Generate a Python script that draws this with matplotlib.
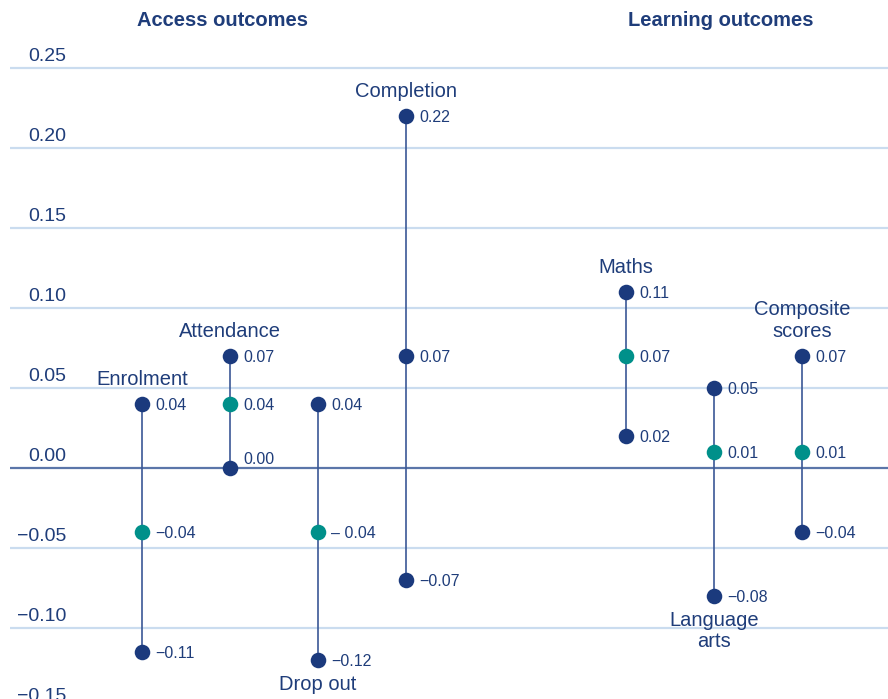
import matplotlib
matplotlib.use("Agg")
import matplotlib.pyplot as plt
from matplotlib.transforms import offset_copy, blended_transform_factory

plt.rcParams['font.family'] = ['Liberation Sans', 'DejaVu Sans']

# ---- data ----
categories = ["Enrolment", "Attendance", "Drop out", "Completion",
              "Maths", "Language\narts", "Composite\nscores"]
groups = ["Access", "Access", "Access", "Access", "Learning", "Learning", "Learning"]
high = [0.04, 0.07, 0.04, 0.22, 0.11, 0.05, 0.07]
mid = [-0.04, 0.04, -0.04, 0.07, 0.07, 0.01, 0.01]
low = [-0.115, 0.00, -0.12, -0.07, 0.02, -0.08, -0.04]
high_lbl = ["0.04", "0.07", "0.04", "0.22", "0.11", "0.05", "0.07"]
mid_lbl = ["\u22120.04", "0.04", "\u2013 0.04", "0.07", "0.07", "0.01", "0.01"]
low_lbl = ["\u22120.11", "0.00", "\u22120.12", "\u22120.07", "0.02", "\u22120.08", "\u22120.04"]
mid_is_teal = [True, True, True, False, True, True, True]
label_above = [True, True, False, True, True, False, True]
yticks = [-0.15, -0.10, -0.05, 0.00, 0.05, 0.10, 0.15, 0.20, 0.25]
ytick_lbl = ["\u22120.15", "\u22120.10", "\u22120.05", "0.00", "0.05", "0.10", "0.15", "0.20", "0.25"]
headers = ["Access outcomes", "Learning outcomes"]

NAVY = "#1b3a7d"
TEAL = "#00908a"
TEXT = "#1f3d7a"
STEM = "#3b5896"
GRID = "#cadcef"
ZERO = "#5b76a9"

W, H = 888, 699
fig = plt.figure(figsize=(W / 100, H / 100), dpi=100)
ax = fig.add_axes([10 / W, 0, 1 - 10 / W, 1])

# x positions: group gap
xs = []
x = 0.0
prev = groups[0]
for g in groups:
    if g != prev:
        x += 1.5
    xs.append(x)
    x += 1.0
    prev = g

unit = 88.0
x0_px = 142.0
ax.set_xlim(-(x0_px - 10) / unit, (W - x0_px) / unit)
zero_px = 467.7
scale = 1600.0
ax.set_ylim(-(H - zero_px) / scale, zero_px / scale)
ax.axis("off")

# gridlines
for v in yticks:
    if v == 0:
        ax.axhline(v, color=ZERO, lw=1.6, zorder=1)
    else:
        ax.axhline(v, color=GRID, lw=1.6, zorder=0)

# y labels
ytr = blended_transform_factory(ax.transAxes, ax.transData)
ytr = offset_copy(ytr, fig=fig, x=0, y=6.5, units="dots")
for v, s in zip(yticks, ytick_lbl):
    ax.text((66 - 10) / (W - 10), v, s, transform=ytr, ha="right", va="baseline",
            fontsize=14, color=TEXT, clip_on=False)

# stems and dots
for i, xp in enumerate(xs):
    ax.plot([xp, xp], [low[i], high[i]], color=STEM, lw=1.2, zorder=2)
    ax.plot(xp, high[i], "o", color=NAVY, ms=11.2, mec="none", zorder=3)
    ax.plot(xp, low[i], "o", color=NAVY, ms=11.2, mec="none", zorder=3)
    ax.plot(xp, mid[i], "o", color=TEAL if mid_is_teal[i] else NAVY, ms=11.2, mec="none", zorder=3)

    vt = offset_copy(ax.transData, fig=fig, x=13, y=0, units="dots")
    ax.text(xp, high[i], high_lbl[i], transform=vt, ha="left", va="center_baseline",
            fontsize=11.5, color=TEXT)
    ax.text(xp, mid[i], mid_lbl[i], transform=vt, ha="left", va="center_baseline",
            fontsize=11.5, color=TEXT)
    low_y_off = 10 if low[i] == 0 else 0
    vt2 = offset_copy(ax.transData, fig=fig, x=13, y=low_y_off, units="dots")
    ax.text(xp, low[i], low_lbl[i], transform=vt2, ha="left", va="center_baseline",
            fontsize=11.5, color=TEXT)

    if label_above[i]:
        ct = offset_copy(ax.transData, fig=fig, x=0, y=15, units="dots")
        ax.text(xp, high[i], categories[i], transform=ct, ha="center", va="bottom",
                fontsize=14.5, color=TEXT, linespacing=1.2)
    else:
        ct = offset_copy(ax.transData, fig=fig, x=0, y=-15, units="dots")
        ax.text(xp, low[i], categories[i], transform=ct, ha="center", va="top",
                fontsize=14.5, color=TEXT, linespacing=1.15)

# headers
fig.text(222 / W, 1 - 21 / H, headers[0], ha="center", va="center",
         fontsize=14.5, fontweight="bold", color=TEXT)
fig.text(721 / W, 1 - 21 / H, headers[1], ha="center", va="center",
         fontsize=14.5, fontweight="bold", color=TEXT)

fig.savefig("out.png", dpi=100)
